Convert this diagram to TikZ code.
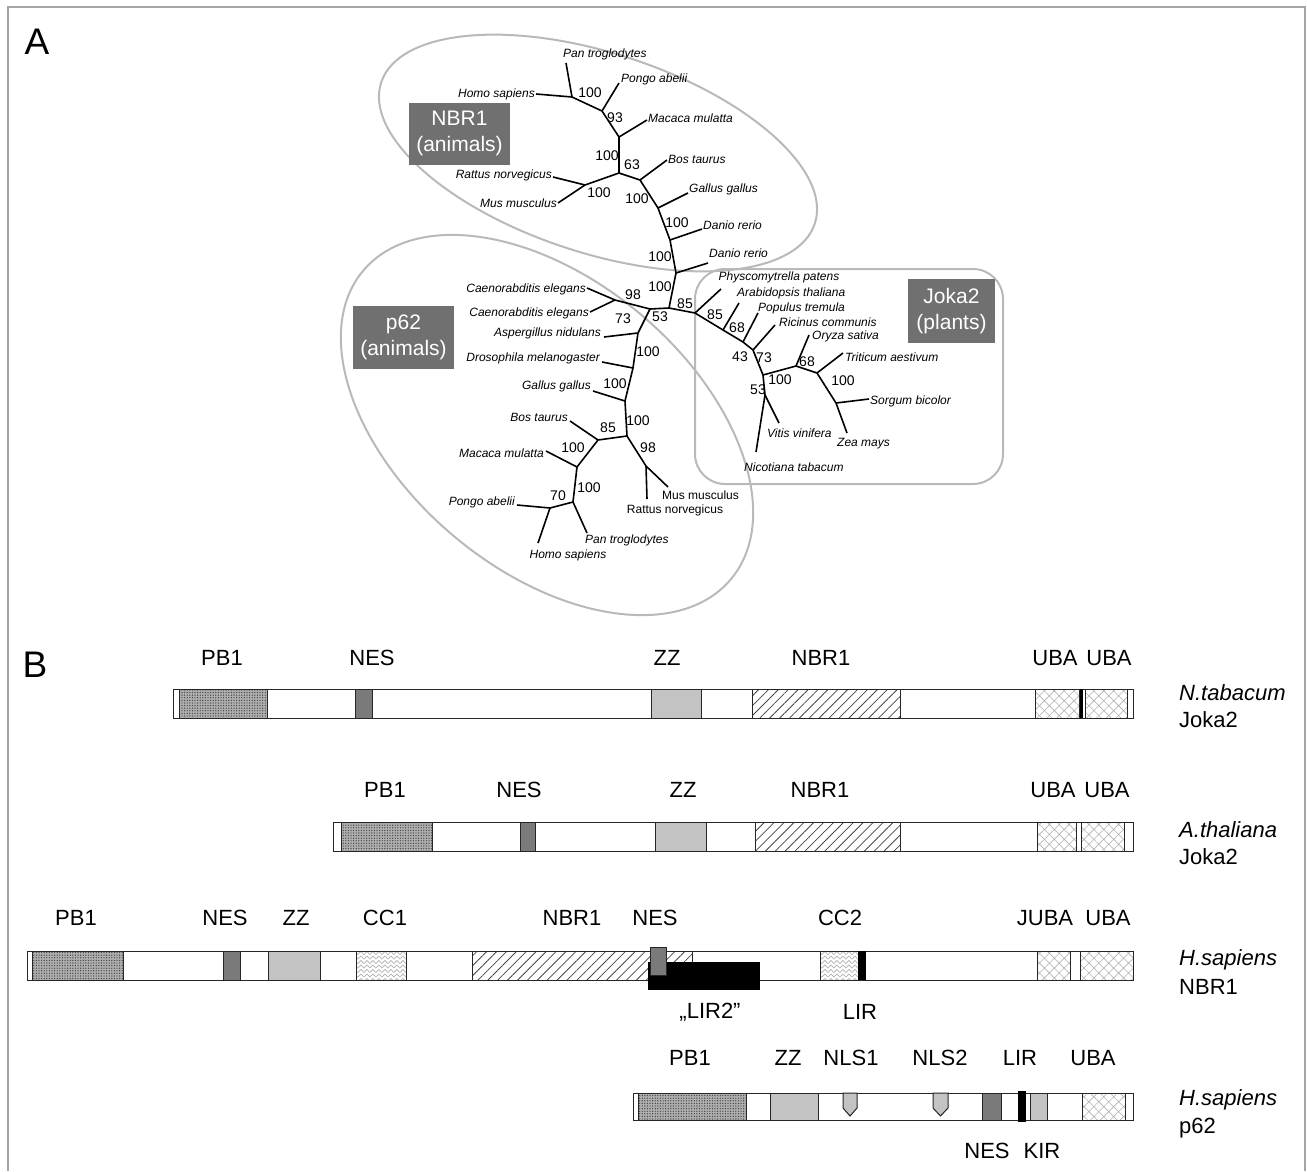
\documentclass[tikz,border=0pt]{standalone}
\usepackage{fontspec}
\setmainfont{Liberation Sans}
\usetikzlibrary{patterns.meta,decorations.pathmorphing}
\definecolor{boxgray}{RGB}{112,112,112}
\definecolor{ellgray}{RGB}{185,185,185}
\definecolor{framegray}{RGB}{165,165,165}
\definecolor{nesgray}{RGB}{122,122,122}
\definecolor{zzgray}{RGB}{195,195,195}
\definecolor{pbgray}{RGB}{175,175,175}
\newcommand{\dom}[5]{\fill[#5] (#1,#3) rectangle (#2,#4); \draw[bar] (#1,#3) rectangle (#2,#4);}
\newcommand{\domp}[6]{\fill[#5] (#1,#3) rectangle (#2,#4); \fill[#6] (#1,#3) rectangle (#2,#4); \draw[bar] (#1,#3) rectangle (#2,#4);}
\newcommand{\ccdom}[4]{%
  \begin{scope}
    \clip (#1,#3) rectangle (#2,#4);
    \foreach \k in {0,...,6} {\draw[gray!65, line width=0.6pt, decorate, decoration={snake, amplitude=1.6pt, segment length=6pt}] (#1-3,#3+2+\k*4.5) -- (#2+3,#3+2+\k*4.5);}
  \end{scope}
  \draw[bar] (#1,#3) rectangle (#2,#4);}
\begin{document}
\begin{tikzpicture}[x=1pt,y=-1pt,
  br/.style={line width=1.6pt, line join=round},
  sp/.style={font=\fontsize{12}{14}\selectfont\itshape, inner sep=1pt},
  spu/.style={font=\fontsize{12}{14}\selectfont, inner sep=1pt},
  bs/.style={font=\fontsize{14}{16}\selectfont, inner sep=0pt},
  clade/.style={draw=ellgray, line width=2pt},
  gbox/.style={fill=boxgray, text=white, font=\fontsize{21}{26}\selectfont, align=center, inner sep=0pt},
  dl/.style={font=\fontsize{22}{26}\selectfont, inner sep=0pt},
  rl/.style={font=\fontsize{22}{26}\selectfont, inner sep=0pt, anchor=west},
  bar/.style={draw=black!85, line width=1pt},
  pbdots/.style={pattern={Dots[distance=2.6pt,radius=0.7pt]}, pattern color=gray!55!black},
  nbrl/.style={pattern={Lines[angle=45,distance=7pt,line width=0.8pt]}, pattern color=gray!55!black},
  uba/.style={pattern={Hatch[angle=45,distance=7pt,line width=0.6pt]}, pattern color=gray!60},
  ]
\useasboundingbox (0,0) rectangle (1307,1171);
% frame
\draw[framegray, line width=2pt] (8,1171) -- (8,7) -- (1305,7) -- (1305,1171);

% panel letters
\node[font=\fontsize{37}{40}\selectfont, inner sep=0pt] (pA) at (37,42) {A};
\node[font=\fontsize{37}{40}\selectfont, inner sep=0pt] (pB) at (35,665) {B};

% clade outlines
\draw[clade, rotate around={-18:(598,153)}] (598,153) ellipse [x radius=228, y radius=100];
\draw[clade, rotate around={-40:(547,425)}] (547,425) ellipse [x radius=240, y radius=145];
\draw[clade, rounded corners=30pt] (695,269) rectangle (1003,484);

% gray clade boxes
\node[gbox, minimum width=101pt, minimum height=62pt] (gN) at (459.5,133.5) {NBR1\\(animals)};
\node[gbox, minimum width=101pt, minimum height=63pt] (gP) at (403.5,337.5) {p62\\(animals)};
\node[gbox, minimum width=87pt, minimum height=64pt] (gJ) at (951.5,311) {Joka2\\(plants)};

% ---------- tree: internal nodes ----------
\coordinate (r) at (669,308);
\coordinate (a1) at (572,97);
\coordinate (a2) at (602,111);
\coordinate (a3) at (619,137);
\coordinate (a4) at (619,173);
\coordinate (a5) at (585,185);
\coordinate (a6) at (640,180);
\coordinate (a7) at (658,208);
\coordinate (a8) at (670,240);
\coordinate (a9) at (676,273);
\coordinate (b1) at (650,309);
\coordinate (bc) at (615,300);
\coordinate (b2) at (638,333);
\coordinate (b3) at (633,368);
\coordinate (b4) at (625,401);
\coordinate (b5) at (627,436);
\coordinate (b6) at (598,440);
\coordinate (b7) at (577,467);
\coordinate (b8) at (573,502);
\coordinate (b9) at (550,508);
\coordinate (b10) at (646,466);
\coordinate (c0) at (695,313);
\coordinate (c1) at (723,330);
\coordinate (c2) at (743,342);
\coordinate (c3) at (753,350);
\coordinate (c4) at (763,375);
\coordinate (c5) at (796,366);
\coordinate (c6) at (817,373);
\coordinate (c7) at (836,403);
\coordinate (c8) at (765,395);

% leaves
\coordinate (lA1) at (536,94);  \coordinate (lA2) at (566,63);
\coordinate (lA3) at (619,83);  \coordinate (lA4) at (647,120);
\coordinate (lA5) at (553,177); \coordinate (lA6) at (558,203);
\coordinate (lA7) at (667,160); \coordinate (lA8) at (688,193);
\coordinate (lA9) at (702,229); \coordinate (lA10) at (708,263);
\coordinate (lB1) at (587,288); \coordinate (lB2) at (590,312);
\coordinate (lB3) at (604,337); \coordinate (lB4) at (602,362);
\coordinate (lB5) at (593,391); \coordinate (lB6) at (570,421);
\coordinate (lB7) at (546,451); \coordinate (lB8) at (587,533);
\coordinate (lB9) at (517,505); \coordinate (lB10) at (538,543);
\coordinate (lB11) at (647,499); \coordinate (lB12) at (668,487);
\coordinate (lC1) at (721,289); \coordinate (lC2) at (739,303);
\coordinate (lC3) at (758,313); \coordinate (lC4) at (775,325);
\coordinate (lC5) at (809,335); \coordinate (lC6) at (843,353);
\coordinate (lC7) at (869,399); \coordinate (lC8) at (847,433);
\coordinate (lC9) at (779,423); \coordinate (lC10) at (756,452);

% branches
\draw[br] (a1) -- (a2) -- (a3) -- (a4) -- (a6) -- (a7) -- (a8) -- (a9) -- (r);
\draw[br] (a4) -- (a5);
\draw[br] (a1) -- (lA1); \draw[br] (a1) -- (lA2);
\draw[br] (a2) -- (lA3); \draw[br] (a3) -- (lA4);
\draw[br] (a5) -- (lA5); \draw[br] (a5) -- (lA6);
\draw[br] (a6) -- (lA7); \draw[br] (a7) -- (lA8);
\draw[br] (a8) -- (lA9); \draw[br] (a9) -- (lA10);
\draw[br] (r) -- (b1) -- (bc) -- (lB1);
\draw[br] (bc) -- (lB2);
\draw[br] (b1) -- (b2) -- (b3) -- (b4) -- (b5) -- (b6) -- (b7) -- (b8) -- (b9);
\draw[br] (b5) -- (b10);
\draw[br] (b2) -- (lB3); \draw[br] (b3) -- (lB4);
\draw[br] (b4) -- (lB5); \draw[br] (b6) -- (lB6);
\draw[br] (b7) -- (lB7); \draw[br] (b8) -- (lB8);
\draw[br] (b9) -- (lB9); \draw[br] (b9) -- (lB10);
\draw[br] (b10) -- (lB11); \draw[br] (b10) -- (lB12);
\draw[br] (r) -- (c0) -- (c1) -- (c2) -- (c3) -- (c4) -- (c5) -- (c6) -- (c7);
\draw[br] (c4) -- (c8);
\draw[br] (c0) -- (lC1); \draw[br] (c1) -- (lC2);
\draw[br] (c2) -- (lC3); \draw[br] (c3) -- (lC4);
\draw[br] (c5) -- (lC5); \draw[br] (c6) -- (lC6);
\draw[br] (c7) -- (lC7); \draw[br] (c7) -- (lC8);
\draw[br] (c8) -- (lC9); \draw[br] (c8) -- (lC10);

% species labels
\node[sp, anchor=east] (tA1) at (lA1) {Homo sapiens};
\node[sp, anchor=west] (tA2) at (562,54) {Pan troglodytes};
\node[sp, anchor=west] (tA3) at (620,79) {Pongo abelii};
\node[sp, anchor=west] (tA4) at (647,118) {Macaca mulatta};
\node[sp, anchor=west] (tA5) at (667,159) {Bos taurus};
\node[sp, anchor=west] (tA6) at (688,189) {Gallus gallus};
\node[sp, anchor=west] (tA7) at (702,225) {Danio rerio};
\node[sp, anchor=west] (tA8) at (708,253) {Danio rerio};
\node[sp, anchor=east] (tA9) at (553,175) {Rattus norvegicus};
\node[sp, anchor=east] (tA10) at (558,203) {Mus musculus};
\node[sp, anchor=east] (tB1) at (587,289) {Caenorabditis elegans};
\node[sp, anchor=east] (tB2) at (590,313) {Caenorabditis elegans};
\node[sp, anchor=east] (tB3) at (602,333) {Aspergillus nidulans};
\node[sp, anchor=east] (tB4) at (601,358) {Drosophila melanogaster};
\node[sp, anchor=east] (tB5) at (592,386) {Gallus gallus};
\node[sp, anchor=east] (tB6) at (569,417) {Bos taurus};
\node[sp, anchor=east] (tB7) at (545,453) {Macaca mulatta};
\node[sp, anchor=east] (tB8) at (516,502) {Pongo abelii};
\node[sp] (tB9) at (568,555) {Homo sapiens};
\node[sp, anchor=west] (tB10) at (584,540) {Pan troglodytes};
\node[spu] (tB11) at (675,510) {Rattus norvegicus};
\node[spu, anchor=west] (tB12) at (661,495) {Mus musculus};
\node[sp] (tC1) at (779,277) {Physcomytrella patens};
\node[sp, anchor=west] (tC2) at (736,293) {Arabidopsis thaliana};
\node[sp, anchor=west] (tC3) at (757,308) {Populus tremula};
\node[sp, anchor=west] (tC4) at (778,322) {Ricinus communis};
\node[sp, anchor=west] (tC5) at (811,336) {Oryza sativa};
\node[sp, anchor=west] (tC6) at (844,357) {Triticum aestivum};
\node[sp, anchor=west] (tC7) at (869,401) {Sorgum bicolor};
\node[sp, anchor=west] (tC8) at (836,444) {Zea mays};
\node[sp, anchor=west] (tC9) at (766,433) {Vitis vinifera};
\node[sp, anchor=west] (tC10) at (743,467) {Nicotiana tabacum};

% bootstrap values
\node[bs] (s1) at (590,93) {100};
\node[bs] (s2) at (615,118) {93};
\node[bs] (s3) at (607,156) {100};
\node[bs] (s4) at (632,165) {63};
\node[bs] (s5) at (599,193) {100};
\node[bs] (s6) at (637,199) {100};
\node[bs] (s7) at (677,223) {100};
\node[bs] (s8) at (660,257) {100};
\node[bs] (s9) at (660,287) {100};
\node[bs] (s10) at (633,295) {98};
\node[bs] (s11) at (623,319) {73};
\node[bs] (s12) at (660,317) {53};
\node[bs] (s13) at (648,352) {100};
\node[bs] (s14) at (615,384) {100};
\node[bs] (s15) at (638,421) {100};
\node[bs] (s16) at (608,428) {85};
\node[bs] (s17) at (573,448) {100};
\node[bs] (s18) at (589,488) {100};
\node[bs] (s19) at (558,496) {70};
\node[bs] (s20) at (648,448) {98};
\node[bs] (s21) at (685,304) {85};
\node[bs] (s22) at (715,315) {85};
\node[bs] (s23) at (737,328) {68};
\node[bs] (s24) at (740,357) {43};
\node[bs] (s25) at (764,358) {73};
\node[bs] (s26) at (780,380) {100};
\node[bs] (s27) at (807,362) {68};
\node[bs] (s28) at (843,381) {100};
\node[bs] (s29) at (758,390) {53};

% ---------- panel B ----------
% row 1: N. tabacum Joka2
\dom{173}{1133}{689}{718}{white}
\domp{179}{267}{689}{718}{pbgray}{pbdots}
\dom{355}{372}{689}{718}{nesgray}
\dom{651}{701}{689}{718}{zzgray}
\domp{752}{900}{689}{718}{white}{nbrl}
\domp{1035}{1079}{689}{718}{white}{uba}
\fill[black] (1079.5,689) rectangle (1083,718);
\domp{1085}{1127}{689}{718}{white}{uba}
\node[dl] (r1a) at (222,658) {PB1};
\node[dl] (r1b) at (372,658) {NES};
\node[dl] (r1c) at (667,658) {ZZ};
\node[dl] (r1d) at (821,658) {NBR1};
\node[dl] (r1e) at (1055,658) {UBA};
\node[dl] (r1f) at (1109,658) {UBA};
\node[rl, font=\fontsize{22}{26}\selectfont\itshape] (n1a) at (1179,693) {N.tabacum};
\node[rl] (n1b) at (1179,720) {Joka2};

% row 2: A. thaliana Joka2
\dom{333}{1133}{822}{851}{white}
\domp{341}{432}{822}{851}{pbgray}{pbdots}
\dom{520}{535}{822}{851}{nesgray}
\dom{655}{706}{822}{851}{zzgray}
\domp{755}{900}{822}{851}{white}{nbrl}
\domp{1037}{1076}{822}{851}{white}{uba}
\domp{1081}{1124}{822}{851}{white}{uba}
\node[dl] (r2a) at (385,790) {PB1};
\node[dl] (r2b) at (519,790) {NES};
\node[dl] (r2c) at (683,790) {ZZ};
\node[dl] (r2d) at (820,790) {NBR1};
\node[dl] (r2e) at (1053,790) {UBA};
\node[dl] (r2f) at (1107,790) {UBA};
\node[rl, font=\fontsize{22}{26}\selectfont\itshape] (n2a) at (1179,830) {A.thaliana};
\node[rl] (n2b) at (1179,857) {Joka2};

% row 3: H. sapiens NBR1
\dom{27}{1133}{951}{980}{white}
\domp{32}{123}{951}{980}{pbgray}{pbdots}
\dom{223}{240}{951}{980}{nesgray}
\dom{268}{320}{951}{980}{zzgray}
\ccdom{356}{406}{951}{980}
\domp{472}{692}{951}{980}{white}{nbrl}
\fill[black] (648,962) rectangle (760,990);
\dom{650}{666}{947}{975}{nesgray}
\ccdom{820}{858}{951}{980}
\fill[black] (858,951) rectangle (866,980);
\domp{1037}{1070}{951}{980}{white}{uba}
\draw[bar] (1080,951) -- (1080,980);
\domp{1080}{1133}{951}{980}{white}{uba}
\node[dl] (r3a) at (76,918) {PB1};
\node[dl] (r3b) at (225,918) {NES};
\node[dl] (r3c) at (296,918) {ZZ};
\node[dl] (r3d) at (385,918) {CC1};
\node[dl] (r3e) at (572,918) {NBR1};
\node[dl] (r3f) at (655,918) {NES};
\node[dl] (r3g) at (840,918) {CC2};
\node[dl] (r3h) at (1045,918) {JUBA};
\node[dl] (r3i) at (1108,918) {UBA};
\node[dl] (r3j) at (710,1012) {„LIR2"};
\node[dl] (r3k) at (860,1012) {LIR};
\node[rl, font=\fontsize{22}{26}\selectfont\itshape] (n3a) at (1179,960) {H.sapiens};
\node[rl] (n3b) at (1179,987) {NBR1};

% row 4: H. sapiens p62
\dom{633}{1133}{1093}{1120}{white}
\domp{638}{746}{1093}{1120}{pbgray}{pbdots}
\dom{770}{818}{1093}{1120}{zzgray}
\filldraw[bar, fill=zzgray] (843,1093) -- (857,1093) -- (857,1108) -- (850,1116) -- (843,1108) -- cycle;
\filldraw[bar, fill=zzgray] (933,1093) -- (948,1093) -- (948,1108) -- (940.5,1116) -- (933,1108) -- cycle;
\dom{982}{1001}{1093}{1120}{nesgray}
\fill[black] (1018,1091) rectangle (1026,1122);
\dom{1030}{1047}{1093}{1120}{zzgray}
\domp{1082}{1125}{1093}{1120}{white}{uba}
\node[dl] (r4a) at (690,1058) {PB1};
\node[dl] (r4b) at (788,1058) {ZZ};
\node[dl] (r4c) at (851,1058) {NLS1};
\node[dl] (r4d) at (940,1058) {NLS2};
\node[dl] (r4e) at (1020,1058) {LIR};
\node[dl] (r4f) at (1093,1058) {UBA};
\node[dl] (r4g) at (987,1151) {NES};
\node[dl] (r4h) at (1042,1151) {KIR};
\node[rl, font=\fontsize{22}{26}\selectfont\itshape] (n4a) at (1179,1100) {H.sapiens};
\node[rl] (n4b) at (1179,1128) {p62};
\end{tikzpicture}
\end{document}
